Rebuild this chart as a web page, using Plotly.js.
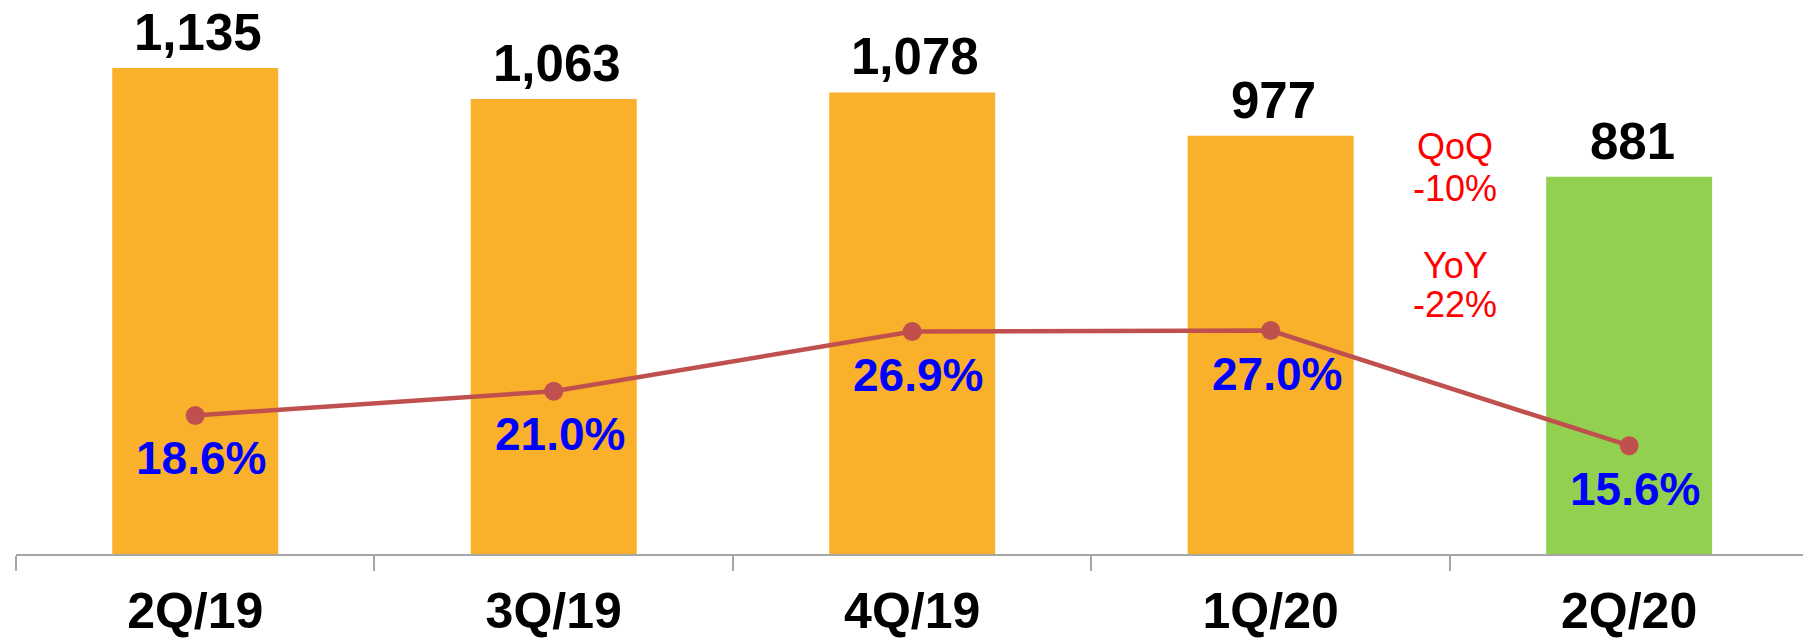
<!DOCTYPE html>
<html>
<head>
<meta charset="utf-8">
<script src="https://cdn.plot.ly/plotly-3.0.1.min.js"></script>
<style>
  html, body { margin: 0; padding: 0; background: #ffffff; }
  #chart { width: 1803px; height: 640px; }
</style>
</head>
<body>
<div id="chart"></div>
<script>
// ---- data ----
const categories = ["2Q/19", "3Q/19", "4Q/19", "1Q/20", "2Q/20"];
const revenue = [1135, 1063, 1078, 977, 881];
const marginPct = [18.6, 21.0, 26.9, 27.0, 15.6];
const barColors = ["#F9B12B", "#F9B12B", "#F9B12B", "#F9B12B", "#92D050"];
const changeNotes = ["QoQ", "-10%", "YoY", "-22%"];

const FONT = "Liberation Sans, Arial, Helvetica, sans-serif";

const bars = {
  type: "bar",
  x: categories,
  y: revenue,
  marker: { color: barColors, line: { width: 0 } },
  width: 0.463,
  hoverinfo: "skip",
  showlegend: false
};

const line = {
  type: "scatter",
  mode: "lines+markers",
  x: categories,
  y: marginPct,
  yaxis: "y2",
  line: { color: "#C0504D", width: 4.5 },
  marker: { color: "#C0504D", size: 19 },
  hoverinfo: "skip",
  showlegend: false,
  cliponaxis: false
};

const annotations = [];
categories.forEach((c, i) => {
  annotations.push({
    x: c, y: revenue[i], xref: "x", yref: "y",
    text: revenue[i].toLocaleString("en-US"),
    showarrow: false, yanchor: "bottom", xanchor: "center",
    yshift: 5, xshift: 3,
    font: { family: FONT, size: 51, color: "#000000", weight: "bold" }
  });
  annotations.push({
    x: c, y: marginPct[i], xref: "x", yref: "y2",
    text: marginPct[i].toFixed(1) + "%",
    showarrow: false, yanchor: "middle", xanchor: "center",
    yshift: -43, xshift: 6,
    font: { family: FONT, size: 46, color: "#0000FF", weight: "bold" }
  });
});

// note lines, vertical centres in pixels from the top of the plot area
const plotH = 554;
const noteCentres = [146.5, 188.5, 265, 304.5];
changeNotes.forEach((t, k) => {
  annotations.push({
    x: 3.515, xref: "x", xanchor: "center",
    y: 1 - noteCentres[k] / plotH, yref: "paper", yanchor: "middle",
    text: t, showarrow: false,
    font: { family: FONT, size: 36, color: "#FF0000" }
  });
});

const layout = {
  width: 1803,
  height: 640,
  margin: { l: 16, r: 0, t: 0, b: 86, pad: 0 },
  paper_bgcolor: "#ffffff",
  plot_bgcolor: "#ffffff",
  font: { family: FONT },
  xaxis: {
    type: "category",
    range: [-0.5, 4.485],
    showline: true,
    linecolor: "#A6A6A6",
    linewidth: 2,
    ticks: "outside",
    tickson: "boundaries",
    ticklen: 15,
    tickwidth: 2,
    tickcolor: "#A6A6A6",
    ticklabelstandoff: 12,
    tickfont: { family: FONT, size: 50, color: "#000000", weight: "bold" },
    showgrid: false,
    zeroline: false,
    fixedrange: true
  },
  yaxis: {
    range: [0, 1294],
    visible: false,
    showgrid: false,
    zeroline: false,
    fixedrange: true
  },
  yaxis2: {
    overlaying: "y",
    range: [4.88, 59.73],
    visible: false,
    showgrid: false,
    zeroline: false,
    fixedrange: true
  },
  annotations: annotations
};

Plotly.newPlot("chart", [bars, line], layout, { staticPlot: true, displayModeBar: false });
</script>
</body>
</html>
